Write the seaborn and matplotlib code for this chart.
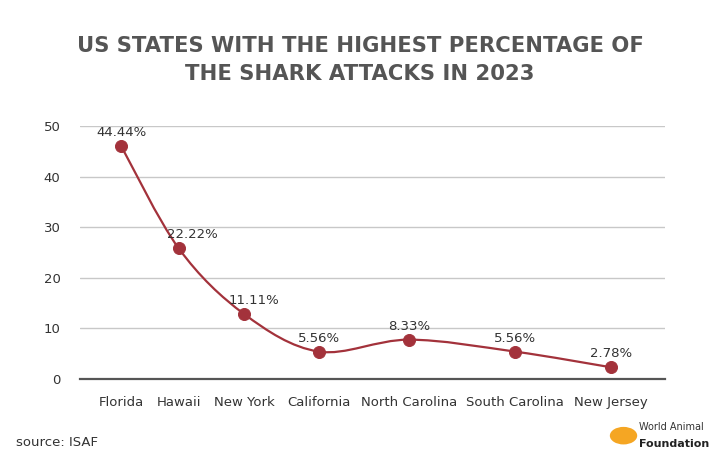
import numpy as np
import pandas as pd
import matplotlib
matplotlib.use("Agg")
import matplotlib.pyplot as plt
import seaborn as sns
from matplotlib.path import Path
from matplotlib.patches import PathPatch, Circle
from matplotlib.textpath import TextPath
from matplotlib.font_manager import FontProperties

states = ["Florida", "Hawaii", "New York", "California",
          "North Carolina", "South Carolina", "New Jersey"]
plotted = [46.1, 25.8, 12.8, 5.4, 7.75, 5.4, 2.3]
labels = ["44.44%", "22.22%", "11.11%", "5.56%", "8.33%", "5.56%", "2.78%"]
yticks = [0, 10, 20, 30, 40, 50]

red = "#a3323b"
grey = "#555555"
tick_size = 9.5
label_nudge = [0, 10, 7, 0, 0, 0, 0]  # points, keeps labels off the line

sns.set_theme(style="white")
plt.rcParams["font.family"] = ["DejaVu Sans"]

fig = plt.figure(figsize=(7.2, 4.62), dpi=100)
ax = fig.add_axes([0.111, 0.180, 0.813, 0.547])

# category slots are as wide as their label plus a gap (like the original)
fp = FontProperties(family="DejaVu Sans", size=tick_size)
widths = np.array([TextPath((0, 0), s, prop=fp).get_extents().width for s in states]) * 100 / 72
gap, pad = 20, 13
slots = widths + gap
edges = np.concatenate([[0], np.cumsum(slots)]) + pad
xpos = (edges[:-1] + edges[1:]) / 2

df = pd.DataFrame({"state": states, "x": xpos, "value": plotted, "label": labels})

# smooth curve (Catmull-Rom as cubic Bezier segments)
pts = np.column_stack([df["x"], df["value"]])
ext = np.vstack([pts[0], pts, pts[-1]])
verts = [tuple(pts[0])]
codes = [Path.MOVETO]
for i in range(len(pts) - 1):
    p0, p1, p2, p3 = ext[i], ext[i + 1], ext[i + 2], ext[i + 3]
    c1 = p1 + (p2 - p0) / 6
    c2 = p2 - (p3 - p1) / 6
    verts += [tuple(c1), tuple(c2), tuple(p2)]
    codes += [Path.CURVE4] * 3
ax.add_patch(PathPatch(Path(verts, codes), facecolor="none", edgecolor=red, lw=1.6, zorder=3))

sns.scatterplot(data=df, x="x", y="value", ax=ax, color=red, s=75,
                edgecolor=red, zorder=4, legend=False)

for i, r in df.iterrows():
    ax.annotate(r["label"], (r["x"], r["value"]), xytext=(label_nudge[i], 5),
                textcoords="offset points", ha="center", va="bottom",
                fontsize=9.5, color="#333333")

ax.set_xlim(0, edges[-1] + pad)
ax.set_ylim(0, 50)
ax.set_yticks(yticks)
ax.set_xticks(xpos)
ax.set_xticklabels(states)
ax.tick_params(axis="both", labelsize=tick_size, colors="#333333", length=0)
ax.tick_params(axis="x", pad=12)
ax.tick_params(axis="y", pad=14)
ax.grid(axis="y", color="#c8c8c8", lw=1)
ax.grid(axis="x", visible=False)
for s in ["left", "right", "top"]:
    ax.spines[s].set_visible(False)
ax.spines["bottom"].set_color(grey)
ax.spines["bottom"].set_linewidth(1.6)
ax.set_xlabel("")
ax.set_ylabel("")

fig.text(0.5, 0.900, "US STATES WITH THE HIGHEST PERCENTAGE OF", ha="center", va="center",
         fontsize=15.2, fontweight="bold", color=grey)
fig.text(0.5, 0.840, "THE SHARK ATTACKS IN 2023", ha="center", va="center",
         fontsize=15.2, fontweight="bold", color=grey)

fig.text(0.022, 0.043, "source: ISAF", fontsize=9.5, color="#333333", va="center")

# logo
fig.patches.append(Circle((0.866, 0.057), 0.019, transform=fig.transFigure,
                          facecolor="#f5a623", edgecolor="none"))
fig.text(0.888, 0.075, "World Animal", fontsize=7, color="#333333", va="center")
fig.text(0.888, 0.040, "Foundation", fontsize=8, fontweight="bold", color="#222222", va="center")

fig.savefig("out.png", dpi=100)
